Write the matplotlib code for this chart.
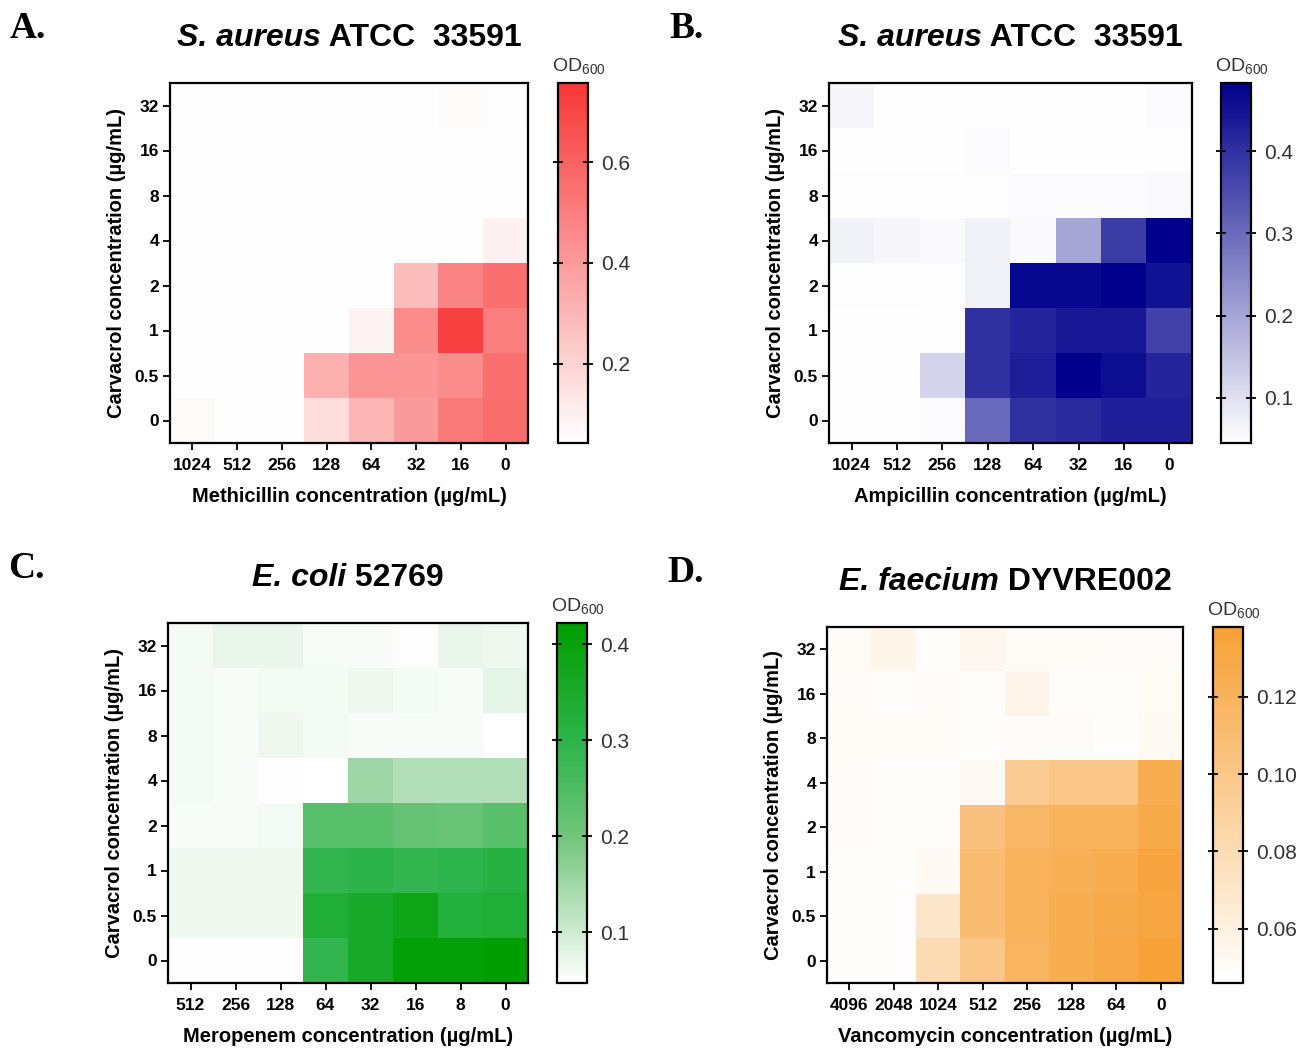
import numpy as np
import matplotlib
matplotlib.use("Agg")
import matplotlib.pyplot as plt
from matplotlib.colors import LinearSegmentedColormap

plt.rcParams['font.family'] = ['Liberation Sans', 'DejaVu Sans']
plt.rcParams['mathtext.default'] = 'regular'

# ---------------- data (OD600, rows top->bottom = carvacrol 32 .. 0) ----------------
carvacrol = ["32", "16", "8", "4", "2", "1", "0.5", "0"]

methicillin = ["1024", "512", "256", "128", "64", "32", "16", "0"]
od_a = [
    [0.050, 0.048, 0.048, 0.048, 0.048, 0.048, 0.058, 0.050],
    [0.046, 0.046, 0.046, 0.046, 0.046, 0.046, 0.046, 0.046],
    [0.046, 0.046, 0.046, 0.046, 0.046, 0.046, 0.046, 0.046],
    [0.046, 0.046, 0.046, 0.046, 0.046, 0.046, 0.046, 0.090],
    [0.046, 0.046, 0.046, 0.046, 0.046, 0.280, 0.480, 0.550],
    [0.046, 0.046, 0.046, 0.046, 0.080, 0.450, 0.720, 0.500],
    [0.046, 0.046, 0.046, 0.320, 0.420, 0.420, 0.450, 0.550],
    [0.060, 0.046, 0.046, 0.160, 0.300, 0.400, 0.520, 0.560],
]

ampicillin = ["1024", "512", "256", "128", "64", "32", "16", "0"]
od_b = [
    [0.062, 0.048, 0.048, 0.048, 0.048, 0.048, 0.048, 0.052],
    [0.047, 0.047, 0.047, 0.052, 0.047, 0.047, 0.048, 0.048],
    [0.050, 0.050, 0.050, 0.050, 0.052, 0.052, 0.052, 0.056],
    [0.070, 0.060, 0.055, 0.070, 0.055, 0.200, 0.380, 0.480],
    [0.050, 0.050, 0.050, 0.070, 0.470, 0.470, 0.480, 0.450],
    [0.047, 0.047, 0.050, 0.400, 0.420, 0.440, 0.440, 0.370],
    [0.047, 0.047, 0.120, 0.400, 0.430, 0.480, 0.460, 0.420],
    [0.047, 0.047, 0.052, 0.300, 0.400, 0.410, 0.430, 0.430],
]

meropenem = ["512", "256", "128", "64", "32", "16", "8", "0"]
od_c = [
    [0.060, 0.070, 0.070, 0.055, 0.055, 0.050, 0.070, 0.065],
    [0.060, 0.055, 0.060, 0.060, 0.065, 0.060, 0.055, 0.075],
    [0.060, 0.055, 0.065, 0.060, 0.055, 0.055, 0.055, 0.048],
    [0.060, 0.055, 0.050, 0.048, 0.150, 0.130, 0.130, 0.130],
    [0.055, 0.055, 0.060, 0.235, 0.235, 0.215, 0.210, 0.235],
    [0.065, 0.065, 0.065, 0.290, 0.300, 0.290, 0.295, 0.310],
    [0.065, 0.065, 0.065, 0.330, 0.350, 0.380, 0.320, 0.330],
    [0.050, 0.050, 0.050, 0.290, 0.350, 0.410, 0.410, 0.420],
]

vancomycin = ["4096", "2048", "1024", "512", "256", "128", "64", "0"]
od_d = [
    [0.050, 0.055, 0.048, 0.053, 0.050, 0.050, 0.049, 0.049],
    [0.049, 0.048, 0.049, 0.048, 0.056, 0.048, 0.048, 0.051],
    [0.050, 0.050, 0.050, 0.048, 0.049, 0.049, 0.048, 0.052],
    [0.049, 0.048, 0.048, 0.052, 0.095, 0.100, 0.100, 0.125],
    [0.049, 0.048, 0.048, 0.105, 0.115, 0.120, 0.120, 0.128],
    [0.048, 0.048, 0.052, 0.110, 0.120, 0.122, 0.125, 0.133],
    [0.048, 0.048, 0.070, 0.110, 0.120, 0.125, 0.128, 0.132],
    [0.048, 0.048, 0.080, 0.100, 0.118, 0.125, 0.130, 0.136],
]

# colour stops for each map (white -> full colour)
red_stops = ["#FFFFFF", "#F83636"]
blue_stops = ["#FFFFFF", "#00008C"]
green_stops = [(0.0, "#FFFFFF"), (0.4, "#73C67D"), (0.67, "#2DB44B"), (1.0, "#009E00")]
orange_stops = ["#FFFFFF", "#F7A035"]

panels = [
    # letter, italic part, rest of title, x labels, data, drug, colours, vmin, vmax, cbar ticks, tick fmt
    ("A.", "S. aureus", " ATCC  33591", methicillin, od_a, "Methicillin", red_stops, 0.042, 0.758, [0.2, 0.4, 0.6], "%.1f"),
    ("B.", "S. aureus", " ATCC  33591", ampicillin, od_b, "Ampicillin", blue_stops, 0.045, 0.483, [0.1, 0.2, 0.3, 0.4], "%.1f"),
    ("C.", "E. coli", " 52769", meropenem, od_c, "Meropenem", green_stops, 0.047, 0.422, [0.1, 0.2, 0.3, 0.4], "%.1f"),
    ("D.", "E. faecium", " DYVRE002", vancomycin, od_d, "Vancomycin", orange_stops, 0.046, 0.138, [0.06, 0.08, 0.10, 0.12], "%.2f"),
]

# axes boxes in pixels (left, top, right, bottom) and colorbar left
W, H = 1305, 1050
boxes = [
    (170, 83, 528, 443, 558),
    (829, 83, 1192, 443, 1221),
    (168, 623, 528, 983, 557),
    (827, 627, 1183, 983, 1213),
]

fig = plt.figure(figsize=(W / 100, H / 100), dpi=100)
renderer = fig.canvas.get_renderer()

for (letter, ital, rest, xlabels, data, drug, stops, vmin, vmax, cticks, fmt), (l, t, r, b, cl) in zip(panels, boxes):
    ax = fig.add_axes([l / W, 1 - b / H, (r - l) / W, (b - t) / H])
    cmap = LinearSegmentedColormap.from_list(drug, stops)
    im = ax.imshow(np.array(data), cmap=cmap, vmin=vmin, vmax=vmax, aspect="auto")
    ax.set_xticks(range(len(xlabels)))
    ax.set_xticklabels(xlabels, fontsize=12.5, fontweight="bold")
    ax.set_yticks(range(len(carvacrol)))
    ax.set_yticklabels(carvacrol, fontsize=12.5, fontweight="bold")
    ax.tick_params(length=5, width=1.3, pad=3)
    ax.tick_params(axis="x", pad=6)
    for s in ax.spines.values():
        s.set_linewidth(1.6)
    ax.set_xlabel(drug + " concentration (µg/mL)", fontsize=14.5, fontweight="bold", labelpad=10)
    ax.set_ylabel("Carvacrol concentration (µg/mL)", fontsize=14.5, fontweight="bold", labelpad=6)

    cax = fig.add_axes([cl / W, 1 - b / H, 30 / W, (b - t) / H])
    cb = fig.colorbar(im, cax=cax, ticks=cticks, format=fmt)
    cb.outline.set_linewidth(1.6)
    cax.tick_params(direction="inout", length=7, width=1.3, left=True, right=True,
                    labelleft=False, labelsize=15, labelcolor="#333333", pad=6)
    cax.text(-0.2, 1.02, "OD$_{600}$", transform=cax.transAxes, ha="left", va="bottom",
             fontsize=14, color="#333333")

    # title: italic species + bold strain, centred as one line
    cx = (l + r) / 2
    ty = 1 - (t - 45) / H
    t1 = fig.text(0, ty, ital, ha="left", va="center", fontsize=23, fontweight="bold", fontstyle="italic")
    t2 = fig.text(0, ty, rest, ha="left", va="center", fontsize=23, fontweight="bold")
    w1 = t1.get_window_extent(renderer).width
    w2 = t2.get_window_extent(renderer).width
    x0 = cx - (w1 + w2) / 2
    t1.set_x(x0 / W)
    t2.set_x((x0 + w1) / W)

    fig.text((l - 160) / W, 1 - (t - 55) / H, letter, ha="left", va="center", fontsize=27,
             fontweight="bold", family="Liberation Serif")

fig.savefig("out.png", dpi=100)
